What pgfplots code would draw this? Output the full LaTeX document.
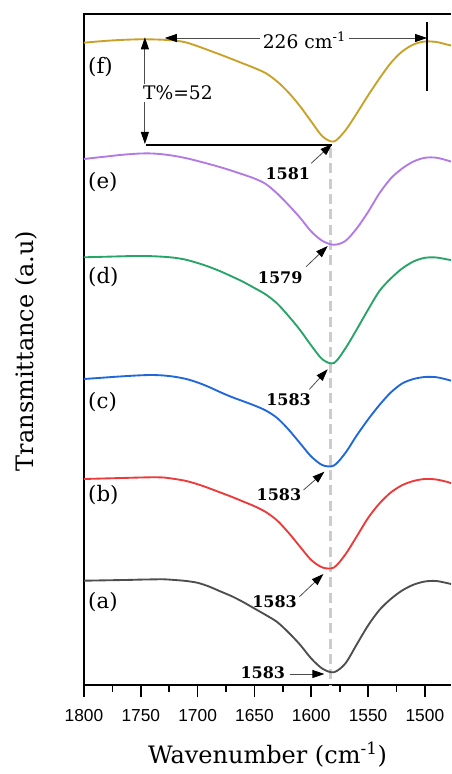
\documentclass[border=0pt]{standalone}
\usepackage{fontspec}
\setmainfont{DejaVu Serif}
\newfontfamily\tickfont{Liberation Sans}
\usepackage{pgfplots}
\pgfplotsset{compat=1.18}
\usetikzlibrary{arrows.meta}

\definecolor{cf}{RGB}{201,161,39}
\definecolor{ce}{RGB}{178,122,228}
\definecolor{cd}{RGB}{40,164,104}
\definecolor{cc}{RGB}{32,104,218}
\definecolor{cb}{RGB}{236,58,58}
\definecolor{ca}{RGB}{78,78,78}

\begin{document}
\begin{tikzpicture}[
    lbl/.style={font=\fontsize{16}{16}\selectfont, anchor=west, inner sep=0pt},
    pk/.style={font=\bfseries\fontsize{12}{12}\selectfont, inner sep=0pt},
    pa/.style={gray!60!black, line width=0.6pt, -{Triangle[length=9pt,width=6pt,color=black]}},
    da/.style={gray!60!black, line width=0.6pt,
      {Triangle[length=9pt,width=6pt,color=black]}-{Triangle[length=9pt,width=6pt,color=black]}}
  ]
  \begin{axis}[
      scale only axis, width=275.25pt, height=503.25pt,
      x dir=reverse, xmin=1477, xmax=1800, ymin=15, ymax=686,
      axis lines=left, axis line style={-, line width=1.6pt},
      xtick={1500,1550,...,1800}, minor x tick num=1, ytick=\empty,
      tick align=outside, major tick length=9pt, minor tick length=5pt,
      every tick/.style={black, line width=1.3pt},
      /pgf/number format/assume math mode=true,
      /pgf/number format/set thousands separator={},
      xticklabel style={font=\tickfont\fontsize{13}{13}\selectfont, yshift=-6pt},
      xlabel={Wavenumber (cm\textsuperscript{-1})},
      ylabel={Transmittance (a.u)},
      label style={font=\fontsize{18}{18}\selectfont},
      xlabel style={at={(axis description cs:0.5,-0.104)}, anchor=center},
      ylabel style={at={(axis description cs:-0.158,0.498)}, anchor=center},
      every axis plot/.append style={line width=1.4pt, smooth},
    ]
    \coordinate (O) at (rel axis cs:0,0);
    \coordinate (TL) at (rel axis cs:0,1);
    \coordinate (TR) at (rel axis cs:1,1);

    % guide line through the minima (behind the spectra)
    \draw[gray!40, line width=2pt, dash pattern=on 7.5pt off 4pt]
      (axis cs:1583,552) -- (axis cs:1583,15);

    % (a)
    \addplot[ca] coordinates {
      (1800,119.3)(1790,119.5)(1780,119.7)(1770,119.9)(1760,120.1)(1750,120.4)
      (1740,120.6)(1730,120.7)(1720,120.0)(1710,119.0)(1700,117.2)(1690,113.5)
      (1680,108.6)(1670,103.8)(1660,98.0)(1650,91.5)(1640,85.0)(1630,78.0)
      (1620,67.5)(1610,55.5)(1600,41.5)(1590,31.2)(1580,27.8)(1570,36.5)
      (1560,55.5)(1550,74.5)(1540,90.0)(1530,101.0)(1520,109.5)(1510,115.3)
      (1500,118.5)(1490,119.0)(1480,116.8)(1477,116.0)};
    % (b)
    \addplot[cb] coordinates {
      (1800,221.0)(1790,221.3)(1780,221.6)(1770,221.9)(1760,222.2)(1750,222.5)
      (1740,222.7)(1730,222.5)(1720,221.0)(1710,219.0)(1700,215.8)(1690,211.8)
      (1680,207.5)(1670,203.2)(1660,198.5)(1650,193.8)(1640,188.0)(1630,179.5)
      (1620,167.3)(1610,153.5)(1600,140.0)(1590,132.5)(1580,132.5)(1570,145.5)
      (1560,163.5)(1550,182.0)(1540,196.5)(1530,207.5)(1520,214.8)(1510,219.0)
      (1500,221.0)(1490,220.5)(1480,218.0)(1477,216.7)};
    % (c)
    \addplot[cc] coordinates {
      (1800,321.0)(1790,321.8)(1780,322.6)(1770,323.4)(1760,324.1)(1750,324.7)
      (1740,325.0)(1730,324.5)(1720,323.2)(1710,321.0)(1700,317.5)(1690,313.0)
      (1680,307.8)(1670,303.0)(1660,298.8)(1650,294.5)(1640,289.5)(1630,282.0)
      (1620,270.5)(1610,257.0)(1600,243.5)(1590,234.8)(1580,234.5)(1570,247.0)
      (1560,264.5)(1550,280.5)(1540,295.0)(1530,307.5)(1520,316.5)(1510,321.0)
      (1500,323.0)(1490,322.8)(1480,320.3)(1477,319.3)};
    % (d)
    \addplot[cd] coordinates {
      (1800,442.7)(1790,443.0)(1780,443.3)(1770,443.6)(1760,443.9)(1750,444.0)
      (1740,443.8)(1730,443.2)(1720,442.2)(1710,440.2)(1700,437.0)(1690,433.2)
      (1680,428.7)(1670,423.6)(1660,418.2)(1650,412.0)(1640,405.5)(1630,396.5)
      (1620,384.0)(1610,370.2)(1600,354.5)(1590,340.5)(1580,337.0)(1570,351.5)
      (1560,370.5)(1550,390.3)(1540,409.0)(1530,421.5)(1520,431.5)(1510,438.5)
      (1500,442.2)(1490,442.5)(1480,440.5)(1477,440.0)};
    % (e)
    \addplot[ce] coordinates {
      (1800,541.0)(1790,542.3)(1780,543.5)(1770,544.8)(1760,545.8)(1750,546.5)
      (1740,546.5)(1730,545.6)(1720,544.0)(1710,541.8)(1700,539.0)(1690,536.0)
      (1680,532.8)(1670,529.3)(1660,525.5)(1650,521.5)(1640,516.0)(1630,506.5)
      (1620,495.0)(1610,482.5)(1600,468.5)(1590,459.0)(1580,455.2)(1570,459.0)
      (1560,471.5)(1550,488.0)(1540,506.7)(1530,521.5)(1520,531.5)(1510,538.5)
      (1500,542.2)(1490,542.3)(1480,539.5)(1477,538.3)};
    % (f)
    \addplot[cf] coordinates {
      (1800,657.3)(1790,658.3)(1780,659.2)(1770,659.9)(1760,660.4)(1750,660.7)
      (1740,660.6)(1730,660.2)(1720,659.5)(1710,657.5)(1700,653.8)(1690,649.6)
      (1680,645.4)(1670,641.0)(1660,636.5)(1650,632.0)(1640,626.8)(1630,618.5)
      (1620,607.5)(1610,594.0)(1600,578.5)(1590,563.5)(1580,558.5)(1570,569.5)
      (1560,586.5)(1550,604.5)(1540,621.5)(1530,637.0)(1520,648.5)(1510,655.5)
      (1500,658.5)(1490,658.0)(1480,655.3)(1477,654.5)};

    % curve labels
    \node[lbl] at (axis cs:1796.5,633) {(f)};
    \node[lbl] at (axis cs:1796.5,518) {(e)};
    \node[lbl] at (axis cs:1796.5,423) {(d)};
    \node[lbl] at (axis cs:1796.5,298) {(c)};
    \node[lbl] at (axis cs:1796.5,205) {(b)};
    \node[lbl] at (axis cs:1796.5,98) {(a)};

    % peak positions
    \node[pk] at (axis cs:1620.6,526.7) {1581};
    \draw[pa] (axis cs:1600,536.7) -- (axis cs:1581.6,556);
    \node[pk] at (axis cs:1627.3,422.7) {1579};
    \draw[pa] (axis cs:1604.5,433.3) -- (axis cs:1585.5,454);
    \node[pk] at (axis cs:1620,300.7) {1583};
    \draw[pa] (axis cs:1601.6,310.7) -- (axis cs:1585.5,330.7);
    \node[pk] at (axis cs:1628.4,205) {1583};
    \draw[pa] (axis cs:1606.8,210) -- (axis cs:1588.4,228.3);
    \node[pk] at (axis cs:1632.3,98.3) {1583};
    \draw[pa] (axis cs:1610.4,103.3) -- (axis cs:1589.3,126);
    \node[pk] at (axis cs:1642.6,27.3) {1583};
    \draw[pa] (axis cs:1619,26) -- (axis cs:1588.4,26);

    % band depth and width of (f)
    \draw[black, line width=1.5pt] (axis cs:1745.8,555) -- (axis cs:1581.4,555);
    \draw[da] (axis cs:1746.4,662.7) -- (axis cs:1746.4,556);
    \node[fill=white, anchor=west, inner sep=1.5pt, font=\fontsize{14}{14}\selectfont]
      at (axis cs:1750,607) {T\%=52};
    \draw[da] (axis cs:1728.9,662) -- (axis cs:1498,662);
    \node[fill=white, inner sep=2pt, font=\fontsize{14}{14}\selectfont]
      at (axis cs:1606,660) {226 cm\textsuperscript{-1}};
    \draw[black, line width=1.5pt] (axis cs:1498,678) -- (axis cs:1498,609);
  \end{axis}
  \draw[line width=1.6pt] ([xshift=-0.8pt]TL) -- (TR);
  \pgfresetboundingbox
  \path[use as bounding box] ([shift={(-63pt,-66.75pt)}]O) rectangle ([shift={(275.25pt,513.75pt)}]O);
\end{tikzpicture}
\end{document}
